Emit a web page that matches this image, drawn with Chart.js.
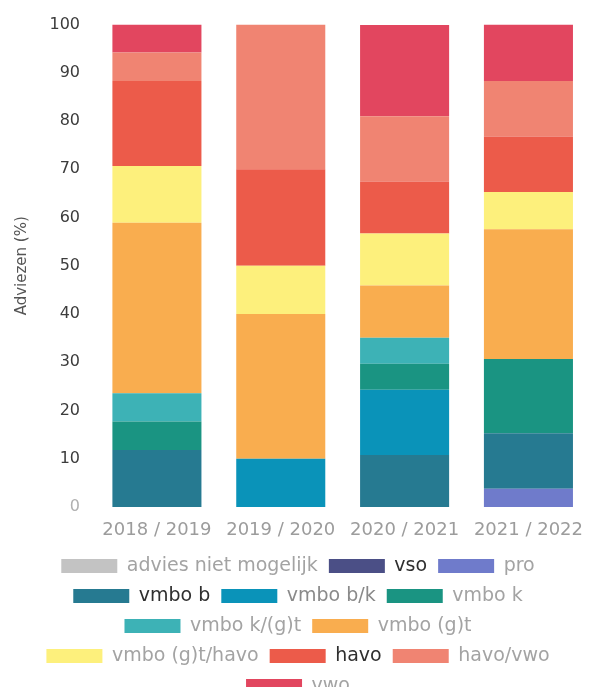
<!DOCTYPE html>
<html lang="nl">
<head>
<meta charset="utf-8">
<title>Adviezen per schooljaar</title>
<script src="https://cdn.jsdelivr.net/npm/chart.js@4.4.1/dist/chart.umd.min.js"></script>
<style>
  html, body { margin: 0; padding: 0; background: #ffffff; overflow: hidden; }
  #wrap { position: relative; width: 596px; height: 687px; }
</style>
</head>
<body>
<div id="wrap"><canvas id="chart"></canvas></div>
<script>
// Schooljaren
const categories = ['2018 / 2019', '2019 / 2020', '2020 / 2021', '2021 / 2022'];

// Aandeel adviezen per niveau (%), per schooljaar
const adviesNietMogelijk = [0, 0, 0, 0];
const vso        = [0, 0, 0, 0];
const pro        = [0, 0, 0, 3.8];
const vmboB      = [11.8, 0, 10.8, 11.5];
const vmboBK     = [0, 10, 13.5, 0];
const vmboK      = [5.9, 0, 5.4, 15.4];
const vmboKGT    = [5.9, 0, 5.4, 0];
const vmboGT     = [35.3, 30, 10.8, 26.9];
const vmboGTHavo = [11.8, 10, 10.8, 7.7];
const havo       = [17.6, 20, 10.8, 11.5];
const havoVwo    = [5.9, 30, 13.5, 11.5];
const vwo        = [5.8, 0, 18.9, 11.7];

// Y-as
const yTicks = [0, 10, 20, 30, 40, 50, 60, 70, 80, 90, 100];
const yTitle = 'Adviezen (%)';

const FONT = "'DejaVu Sans', 'Open Sans', sans-serif";

const levels = [
  { label: 'advies niet mogelijk', data: adviesNietMogelijk, color: '#c3c3c3', text: '#a3a3a3' },
  { label: 'vso',            data: vso,        color: '#4b4f86', text: '#2f2f2f' },
  { label: 'pro',            data: pro,        color: '#6f7bcb', text: '#a3a3a3' },
  { label: 'vmbo b',         data: vmboB,      color: '#267a91', text: '#2f2f2f' },
  { label: 'vmbo b/k',       data: vmboBK,     color: '#0a93b9', text: '#8a8a8a' },
  { label: 'vmbo k',         data: vmboK,      color: '#1a9482', text: '#a3a3a3' },
  { label: 'vmbo k/(g)t',    data: vmboKGT,    color: '#3db2b6', text: '#a3a3a3' },
  { label: 'vmbo (g)t',      data: vmboGT,     color: '#f9ad4f', text: '#a3a3a3' },
  { label: 'vmbo (g)t/havo', data: vmboGTHavo, color: '#fdf07c', text: '#a3a3a3' },
  { label: 'havo',           data: havo,       color: '#ec5b4a', text: '#2f2f2f' },
  { label: 'havo/vwo',       data: havoVwo,    color: '#f08472', text: '#a3a3a3' },
  { label: 'vwo',            data: vwo,        color: '#e2465f', text: '#a3a3a3' }
];

const textColors = levels.map(l => l.text);

// Legend rows wrap at a narrower width than the canvas, while still
// being centred on the full width.
const legendWrapWidth = {
  id: 'legendWrapWidth',
  beforeLayout(chart, args, opts) {
    const lg = chart.legend;
    if (lg && !lg.__wrapPatched) {
      const upd = lg.update;
      lg.update = function (w, h, m) {
        return upd.call(this, Math.min(w, opts.width || w), h, m);
      };
      lg.__wrapPatched = true;
    }
  }
};

new Chart(document.getElementById('chart'), {
  type: 'bar',
  data: {
    labels: categories,
    datasets: levels.map(l => ({
      label: l.label,
      data: l.data,
      backgroundColor: l.color,
      borderWidth: 0,
      categoryPercentage: 1,
      barPercentage: 0.719
    }))
  },
  plugins: [legendWrapWidth],
  options: {
    responsive: true,
    maintainAspectRatio: false,
    animation: false,
    layout: { padding: { top: 22, left: 0, right: 0, bottom: 0 } },
    scales: {
      x: {
        stacked: true,
        grid: { display: false, drawTicks: false },
        border: { display: false },
        ticks: {
          color: '#9c9c9c',
          font: { family: FONT, size: 18 },
          padding: 13,
          maxRotation: 0,
          autoSkip: false
        },
        afterFit(scale) { scale.height = 38.5; }
      },
      y: {
        stacked: true,
        min: 0,
        max: 100,
        grid: { display: false, drawTicks: false },
        border: { display: false },
        afterBuildTicks(scale) { scale.ticks = yTicks.map(v => ({ value: v })); },
        ticks: {
          color: ctx => (ctx.tick && ctx.tick.value === 0 ? '#b0b0b0' : '#3c3c3c'),
          font: { family: FONT, size: 16 },
          padding: 15
        },
        title: {
          display: true,
          text: yTitle,
          color: '#555555',
          font: { family: FONT, size: 15 },
          padding: { top: 13, bottom: 0 }
        },
        afterFit(scale) { scale.width = 95; }
      }
    },
    plugins: {
      tooltip: { enabled: false },
      legendWrapWidth: { width: 575 },
      legend: {
        position: 'bottom',
        maxHeight: 141.5,
        labels: {
          boxWidth: 56,
          boxHeight: 14,
          padding: 11,
          color: '#a3a3a3',
          font: { family: FONT, size: 19 },
          generateLabels(chart) {
            const items = Chart.defaults.plugins.legend.labels.generateLabels(chart);
            items.forEach((it, i) => { it.fontColor = textColors[i]; it.lineWidth = 0; });
            return items;
          }
        }
      }
    }
  }
});
</script>
</body>
</html>
